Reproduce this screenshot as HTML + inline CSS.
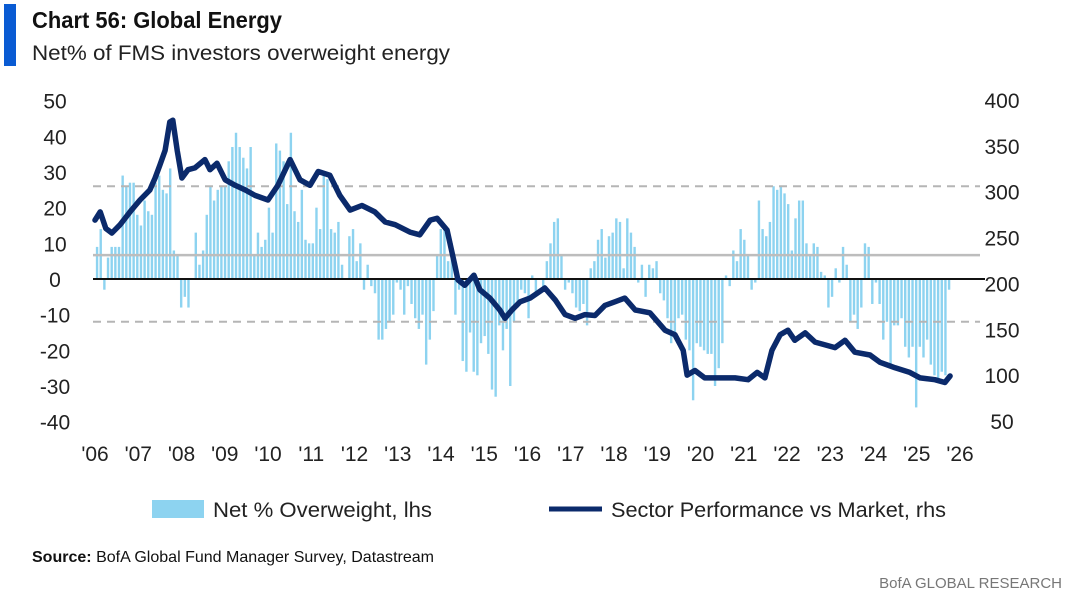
<!DOCTYPE html>
<html><head><meta charset="utf-8">
<style>
body{margin:0;background:#fff;width:1080px;height:596px;overflow:hidden;font-family:"Liberation Sans",Arial,sans-serif;}
</style></head>
<body>
<svg id="chart" width="1080" height="596" xmlns="http://www.w3.org/2000/svg" font-family="Liberation Sans, Arial, sans-serif">
  <rect x="4" y="4" width="12" height="62" fill="#0a5bd3"/>
  <text x="32" y="28" font-size="23" font-weight="bold" fill="#111" textLength="250" lengthAdjust="spacingAndGlyphs">Chart 56: Global Energy</text>
  <text x="32" y="60" font-size="21" fill="#222" textLength="418" lengthAdjust="spacingAndGlyphs">Net% of FMS investors overweight energy</text>
  <g id="plot"></g>
  <g>
    <rect x="152" y="500" width="52" height="18" fill="#8dd3f0"/>
    <text x="213" y="517" font-size="21" fill="#222" textLength="219" lengthAdjust="spacingAndGlyphs">Net % Overweight, lhs</text>
    <line x1="549" y1="509" x2="602" y2="509" stroke="#0b2a6b" stroke-width="5"/>
    <text x="611" y="517" font-size="21" fill="#222" textLength="335" lengthAdjust="spacingAndGlyphs">Sector Performance vs Market, rhs</text>
  </g>
  <text x="32" y="562" font-size="16" fill="#111" textLength="402" lengthAdjust="spacingAndGlyphs"><tspan font-weight="bold">Source:</tspan> BofA Global Fund Manager Survey, Datastream</text>
  <text x="1062" y="588" font-size="15" fill="#777" text-anchor="end">BofA GLOBAL RESEARCH</text>
</svg>
<script>
const barValues = [9,14,-3,6,9,9,9,29,26,27,27,18,15,22,19,18,27,29,25,24,31,8,7,-8,-5,-8,
0,13,4,8,18,26,22,25,26,26,33,37,41,37,34,31,37,7,13,9,11,20,13,38,36,33,21,41,19,16,25,11,10,10,20,14,29,28,14,13,16,4,0,12,14,5,10,-3,4,-2,-4,-17,-17,-14,-12,-10,-1,-3,
-10,-2,-7,-11,-14,-10,-24,-17,-9,7,14,15,5,10,-10,-3,-23,-26,-15,-26,-27,-18,-16,-21,-31,-33,-13,-20,-14,-30,-12,-8,-3,-4,-11,1,-4,0,-3,5,10,16,17,7,-3,-1,-4,-8,-9,-7,-13,3,5,11,14,6,12,13,17,16,3,17,13,9,-1,4,-5,4,3,5,-4,-6,-11,-18,-16,-11,
-10,-17,-20,-34,-18,-19,-20,-21,-21,-30,-25,-18,1,-2,8,5,14,11,7,-3,-1,22,14,12,16,26,25,26,24,21,8,17,22,22,10,7,10,9,2,1,-8,-5,3,-1,9,4,-12,-10,-14,-8,10,9,-7,-1,-7,-17,-12,-24,-13,-13,-11,-19,-22,-19,-36,-19,-22,-17,-24,-27,-28,-26,-27,-3];
const barStart = 2006.02, barEnd = 2025.72;
const lineDates = [2006.00,2006.12,2006.25,2006.39,2006.58,2006.81,2007.04,2007.27,2007.39,2007.50,2007.62,2007.73,2007.80,2007.90,2008.01,2008.15,2008.31,2008.54,2008.66,2008.82,2009.01,2009.24,2009.47,2009.70,2010.00,2010.23,2010.51,2010.74,2010.97,2011.16,2011.43,2011.66,2011.90,2012.17,2012.47,2012.71,2012.94,2013.28,2013.51,2013.75,2013.91,2014.14,2014.32,2014.39,2014.55,2014.76,2014.90,2015.13,2015.36,2015.48,2015.64,2015.83,2016.06,2016.40,2016.64,2016.87,2017.10,2017.33,2017.56,2017.79,2018.02,2018.25,2018.49,2018.83,2019.18,2019.41,2019.60,2019.69,2019.87,2020.10,2020.45,2020.80,2021.10,2021.31,2021.49,2021.65,2021.84,2022.02,2022.18,2022.42,2022.65,2022.88,2023.11,2023.34,2023.57,2023.92,2024.15,2024.50,2024.84,2025.08,2025.42,2025.65,2025.77];
const lineValues = [269,278,260,255,264,278,291,302,315,329,345,376,378,345,315,324,326,335,324,331,313,307,302,296,291,307,335,313,307,322,318,296,280,285,278,267,264,256,253,269,271,258,220,204,198,209,193,184,171,162,171,180,184,195,182,166,162,166,165,176,180,184,171,168,149,144,127,100,105,97,97,97,95,103,97,127,144,149,138,146,136,133,130,138,125,122,114,108,103,97,95,92,99];
const leftTicks = [50,40,30,20,10,0,-10,-20,-30,-40];
const rightTicks = [400,350,300,250,200,150,100,50];
const yearLabels = ["'06","'07","'08","'09","'10","'11","'12","'13","'14","'15","'16","'17","'18","'19","'20","'21","'22","'23","'24","'25","'26"];
const refDashed = [26,-12];
const refSolid = 6.7;

const NS="http://www.w3.org/2000/svg";
const g=document.getElementById('plot');
const X0=95, PXY=43.25;
const xYear=y=>X0+(y-2006)*PXY;
const yL=v=>279-(v)*3.567;
const yR=v=>100+(400-v)*0.9171;
function mk(t,a){const e=document.createElementNS(NS,t);for(const k in a)e.setAttribute(k,a[k]);g.appendChild(e);return e;}

const nB=barValues.length;
barValues.forEach((v,i)=>{
  const x=xYear(barStart+(barEnd-barStart)*i/(nB-1));
  const r=mk('rect',{x:x,y:Math.min(yL(v),yL(0)),width:2.4,height:Math.abs(yL(v)-yL(0)),fill:'#8dd3f0'});
  
  
});
refDashed.forEach(v=>{
  const l=mk('line',{x1:93,x2:980,y1:yL(v),y2:yL(v),stroke:'#b5b5b5','stroke-width':2,'stroke-dasharray':'8,6'});
  
  
});
const sl=mk('line',{x1:93,x2:980,y1:yL(refSolid),y2:yL(refSolid),stroke:'#bdbdbd','stroke-width':2.5});


const zl=mk('line',{x1:93,x2:985,y1:yL(0),y2:yL(0),stroke:'#111','stroke-width':2});


const d=lineDates.map((t,i)=>(i?'L':'M')+xYear(t).toFixed(1)+','+yR(lineValues[i]).toFixed(1)).join(' ');
const p=mk('path',{d:d,fill:'none',stroke:'#0b2a6b','stroke-width':5.5,'stroke-linejoin':'round','stroke-linecap':'round'});


leftTicks.forEach(v=>{
  const t=mk('text',{x:55,y:yL(v)+8,'font-size':21,fill:'#222','text-anchor':'middle'});t.textContent=v;
  
  
});
rightTicks.forEach(v=>{
  const t=mk('text',{x:1002,y:yR(v)+8,'font-size':21,fill:'#222','text-anchor':'middle'});t.textContent=v;
  
  
});
yearLabels.forEach((s,i)=>{
  const t=mk('text',{x:xYear(2006+i),y:461,'font-size':21,fill:'#222','text-anchor':'middle'});t.textContent=s;
  
  
});
</script>
</body></html>
